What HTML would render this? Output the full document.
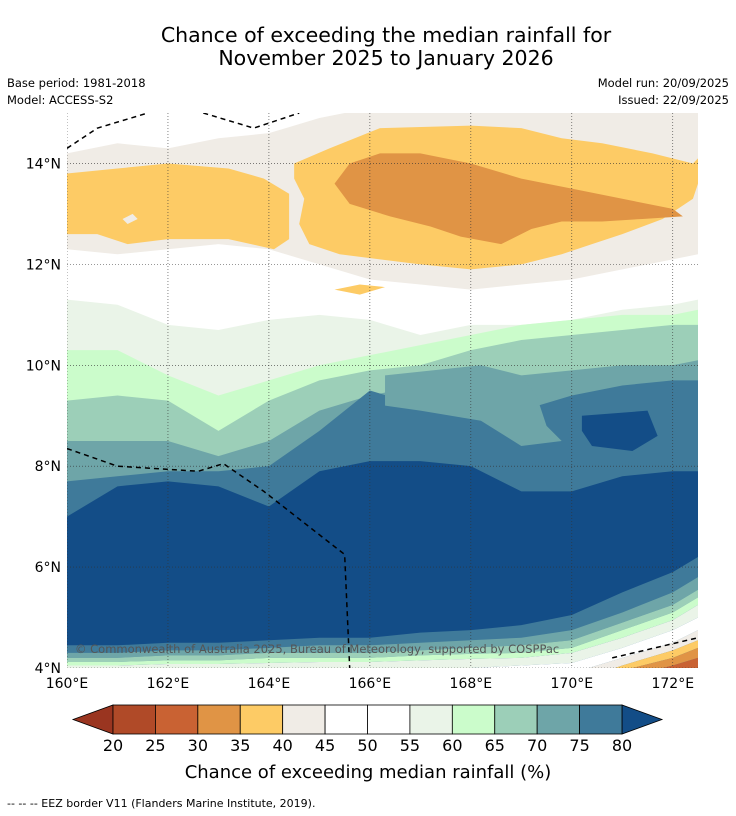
<!DOCTYPE html>
<html><head><meta charset="utf-8"><style>
body{margin:0;background:#fff;font-family:"DejaVu Sans",sans-serif}
#wrap{position:relative;width:736px;height:816px;overflow:hidden}
</style></head><body>
<div id="wrap">
<svg id="svg" width="736" height="816" viewBox="0 0 736 816" xmlns="http://www.w3.org/2000/svg" font-family="DejaVu Sans, sans-serif">
<text x="386" y="42" font-size="20.5" text-anchor="middle">Chance of exceeding the median rainfall for</text>
<text x="386" y="65" font-size="20.5" text-anchor="middle">November 2025 to January 2026</text>
<text x="7" y="87" font-size="11.5">Base period: 1981-2018</text>
<text x="7" y="104" font-size="11.5">Model: ACCESS-S2</text>
<text x="729" y="87" font-size="11.5" text-anchor="end">Model run: 20/09/2025</text>
<text x="729" y="104" font-size="11.5" text-anchor="end">Issued: 22/09/2025</text>
<defs><clipPath id="mapclip"><rect x="67" y="113" width="631" height="555"/></clipPath></defs>
<g id="map" clip-path="url(#mapclip)"><rect x="67" y="113" width="631" height="555" fill="#fff"/></g>
<g id="axes"></g>
<g id="cbar"></g>
<text x="368" y="778" font-size="18" text-anchor="middle">Chance of exceeding median rainfall (%)</text>
<text x="7" y="807" font-size="11">--  --  -- EEZ border V11 (Flanders Marine Institute, 2019).</text>
</svg></div>
<script>
// ---- data ----
const lons=[160,161,162,163,164,165,166,167,168,169,170,171,172,172.5];
const levels=[20,25,30,35,40,45,50,55,60,65,70,75,80];
const colors=['#b04a28','#c96233','#e09445','#fdcb65','#f0ece6','#ffffff','#ffffff','#eaf4e8','#cbfccb','#9ccfb8','#6ea5a8','#3f7a9a'];
const colUnder='#9a3520', colOver='#134d87';
const top55=[11.3,11.2,10.8,10.7,10.9,11.0,10.9,10.6,10.8,10.8,10.9,11.1,11.2,11.3];
const top60=[10.3,10.3,9.8,9.4,9.7,10.0,10.2,10.4,10.6,10.8,10.9,11.0,11.0,11.1];
const top65=[9.3,9.4,9.3,8.7,9.3,9.7,9.9,10.0,10.3,10.5,10.6,10.7,10.8,10.8];
const top70=[8.5,8.5,8.5,8.2,8.5,9.1,9.4,9.6,9.7,9.8,9.9,10.0,10.0,10.1];
const top75=[7.7,7.8,7.9,7.9,8.0,8.7,9.5,9.2,9.1,9.1,9.4,9.6,9.7,9.7];
const top80=[7.0,7.6,7.7,7.6,7.2,7.9,8.1,8.1,8.0,7.5,7.5,7.8,7.9,7.9];
const bot80=[4.45,4.45,4.5,4.5,4.55,4.6,4.6,4.7,4.75,4.85,5.05,5.5,5.9,6.2];
const bot75=[4.3,4.3,4.35,4.35,4.4,4.45,4.45,4.5,4.55,4.6,4.75,5.1,5.5,5.8];
const bot70=[4.2,4.2,4.25,4.25,4.3,4.3,4.3,4.35,4.4,4.45,4.55,4.9,5.25,5.55];
const bot65=[4.12,4.12,4.15,4.15,4.2,4.2,4.2,4.25,4.28,4.3,4.4,4.75,5.1,5.4];
const bot60=[4.05,4.05,4.08,4.08,4.1,4.12,4.12,4.15,4.18,4.2,4.3,4.6,4.95,5.25];
const bot45=[3.9,3.9,3.9,3.9,3.9,3.9,3.9,3.95,4.0,4.05,4.1,4.4,4.75,5.0];
const bot40=[3.8,3.8,3.8,3.8,3.8,3.8,3.8,3.8,3.8,3.85,3.9,4.2,4.5,4.75];
const bot35=[3.7,3.7,3.7,3.7,3.7,3.7,3.7,3.7,3.7,3.7,3.7,4.05,4.35,4.55];
const bot30=[3.6,3.6,3.6,3.6,3.6,3.6,3.6,3.6,3.6,3.6,3.6,3.95,4.2,4.4];
const bot25=[3.5,3.5,3.5,3.5,3.5,3.5,3.5,3.5,3.5,3.5,3.5,3.8,4.05,4.2];
const dryTop=[14.2,14.4,14.3,14.5,14.6,14.9,15.1,15.1,15.1,15.1,15.1,15.1,15.1,15.1];
const dryBot=[12.3,12.2,12.3,12.4,12.3,12.0,11.7,11.6,11.5,11.6,11.7,11.9,12.1,12.2];
const dry40a=[[160,13.8],[161,13.9],[162,14.0],[163.2,13.9],[163.9,13.7],[164.4,13.4],[164.4,12.5],[164.1,12.3],[163.2,12.5],[162,12.5],[161.2,12.4],[160.6,12.6],[160,12.6]];
const dry40b=[[164.5,14.0],[165.2,14.3],[166.2,14.7],[168,14.75],[169,14.7],[169.8,14.5],[170.6,14.4],[171.6,14.2],[172.4,14.0],[172.5,14.1],[172.5,13.6],[172.4,13.3],[171.8,12.9],[171,12.6],[170.4,12.4],[169.8,12.2],[169,12.0],[168,11.9],[167,12.0],[166.2,12.1],[165.4,12.2],[164.8,12.4],[164.6,12.8],[164.7,13.3],[164.5,13.7]];
const dry40c=[[165.3,11.5],[165.8,11.6],[166.3,11.55],[165.8,11.4]];
const dry35=[[165.3,13.6],[165.6,14.0],[166.2,14.2],[167,14.2],[168,14.0],[169,13.7],[170,13.5],[171,13.3],[172,13.1],[172.2,12.95],[171.4,12.9],[170.6,12.85],[169.8,12.85],[169.2,12.7],[168.6,12.4],[167.8,12.55],[167.2,12.75],[166.4,12.95],[165.6,13.2]];
const hole=[[161.1,12.9],[161.3,13.0],[161.4,12.9],[161.2,12.8]];
const isl70=[[166.3,9.8],[168.2,10.0],[169,9.8],[169.3,9.4],[169.5,8.8],[169.8,8.5],[169,8.4],[168.2,8.9],[167,9.1],[166.3,9.2]];
const isl80=[[170.2,9.0],[171.5,9.1],[171.7,8.6],[171.2,8.3],[170.4,8.4],[170.2,8.7]];
const eez1=[[160,14.3],[160.6,14.7],[161.6,15.0]];
const eez2=[[162.7,15.0],[163.7,14.7],[164.6,15.0]];
const eez3=[[160,8.35],[161,8.0],[162.6,7.9],[163.1,8.05],[163.9,7.5],[165.5,6.25],[165.6,4.0]];
const eez4=[[170.8,4.2],[172.5,4.6]];
const xtickVals=[160,162,164,166,168,170,172];
const ytickVals=[4,6,8,10,12,14];
// ---- axes ----
const X0=67,X1=698,Y0=668,Y1=113;
const xs=l=>X0+(l-160)/12.5*(X1-X0);
const ys=a=>Y0-(a-4)/11*(Y0-Y1);
const NS='http://www.w3.org/2000/svg';
function mk(tag,attrs,parent){const e=document.createElementNS(NS,tag);for(const k in attrs)e.setAttribute(k,attrs[k]);parent.appendChild(e);return e;}
const map=document.getElementById('map');
function bandPoly(upper,lower,fill,name){
  let pts=[];
  lons.forEach((l,i)=>pts.push(xs(l)+','+ys(upper[i])));
  for(let i=lons.length-1;i>=0;i--)pts.push(xs(lons[i])+','+ys(lower[i]));
  const p=mk('polygon',{points:pts.join(' '),fill:fill},map);
  
  
}
function ptsPoly(arr,fill,name){
  const p=mk('polygon',{points:arr.map(d=>xs(d[0])+','+ys(d[1])).join(' '),fill:fill},map);
  
  
}
const low=lons.map(()=>3.0);
bandPoly(dryTop,dryBot,colors[4],'band-40-45-north');
ptsPoly(dry40a,colors[3],'band-35-40-west');
ptsPoly(dry40b,colors[3],'band-35-40-central');
ptsPoly(dry40c,colors[3],'band-35-40-small');
ptsPoly(dry35,colors[2],'band-30-35');
ptsPoly(hole,colors[4],'band-40-45-hole');
bandPoly(top55,low,colors[7],'band-55-60');
bandPoly(top60,low,colors[8],'band-60-65');
bandPoly(top65,low,colors[9],'band-65-70');
bandPoly(top70,low,colors[10],'band-70-75');
bandPoly(top75,low,colors[11],'band-75-80');
ptsPoly(isl70,colors[10],'band-70-75-island');
bandPoly(top80,bot80,colOver,'band-above-80');
ptsPoly(isl80,colOver,'band-above-80-island');
bandPoly(bot75,bot70,colors[10],'band-70-75-south');
bandPoly(bot70,bot65,colors[9],'band-65-70-south');
bandPoly(bot65,bot60,colors[8],'band-60-65-south');
bandPoly(bot60,bot45,colors[7],'band-55-60-south');
bandPoly(bot45,bot40,colors[5],'band-45-55-south');
bandPoly(bot40,bot35,colors[4],'band-40-45-south');
bandPoly(bot35,bot30,colors[3],'band-35-40-south');
bandPoly(bot30,bot25,colors[2],'band-30-35-south');
bandPoly(bot25,low,colors[1],'band-25-30-south');
xtickVals.forEach(v=>{const l=mk('line',{x1:xs(v),x2:xs(v),y1:Y1,y2:Y0,stroke:'#333','stroke-width':0.6,'stroke-dasharray':'1,2'},map);

});
ytickVals.forEach(v=>{const l=mk('line',{x1:X0,x2:X1,y1:ys(v),y2:ys(v),stroke:'#333','stroke-width':0.6,'stroke-dasharray':'1,2'},map);

});
[eez1,eez2,eez3,eez4].forEach((e,i)=>{const l=mk('polyline',{points:e.map(d=>xs(d[0])+','+ys(d[1])).join(' '),fill:'none',stroke:'#000','stroke-width':1.5,'stroke-dasharray':'5,4'},map);

});
const cp=mk('text',{x:75,y:653,'font-size':11.5,fill:'#555'},map);
cp.textContent='© Commonwealth of Australia 2025, Bureau of Meteorology, supported by COSPPac';


const axes=document.getElementById('axes');
xtickVals.forEach(v=>{const t=mk('text',{x:xs(v),y:688,'font-size':14,'text-anchor':'middle'},axes);t.textContent=v+'°E';

});
ytickVals.forEach(v=>{const t=mk('text',{x:61,y:ys(v)+5,'font-size':14,'text-anchor':'end'},axes);t.textContent=v+'°N';

});
const cb=document.getElementById('cbar');
const cx=v=>113+(v-20)/60*509, cy0=705, cy1=734;
mk('polygon',{points:`73,${(cy0+cy1)/2} ${cx(20)},${cy0} ${cx(20)},${cy1}`,fill:colUnder,stroke:'#000','stroke-width':0.8},cb);
mk('polygon',{points:`662,${(cy0+cy1)/2} ${cx(80)},${cy0} ${cx(80)},${cy1}`,fill:colOver,stroke:'#000','stroke-width':0.8},cb);
colors.forEach((c,i)=>{const r=mk('rect',{x:cx(levels[i]),y:cy0,width:cx(levels[i+1])-cx(levels[i]),height:cy1-cy0,fill:c,stroke:'#000','stroke-width':0.8},cb);

});
levels.forEach(v=>{const t=mk('text',{x:cx(v),y:751,'font-size':16,'text-anchor':'middle'},cb);t.textContent=v;

});
</script>
</body></html>
